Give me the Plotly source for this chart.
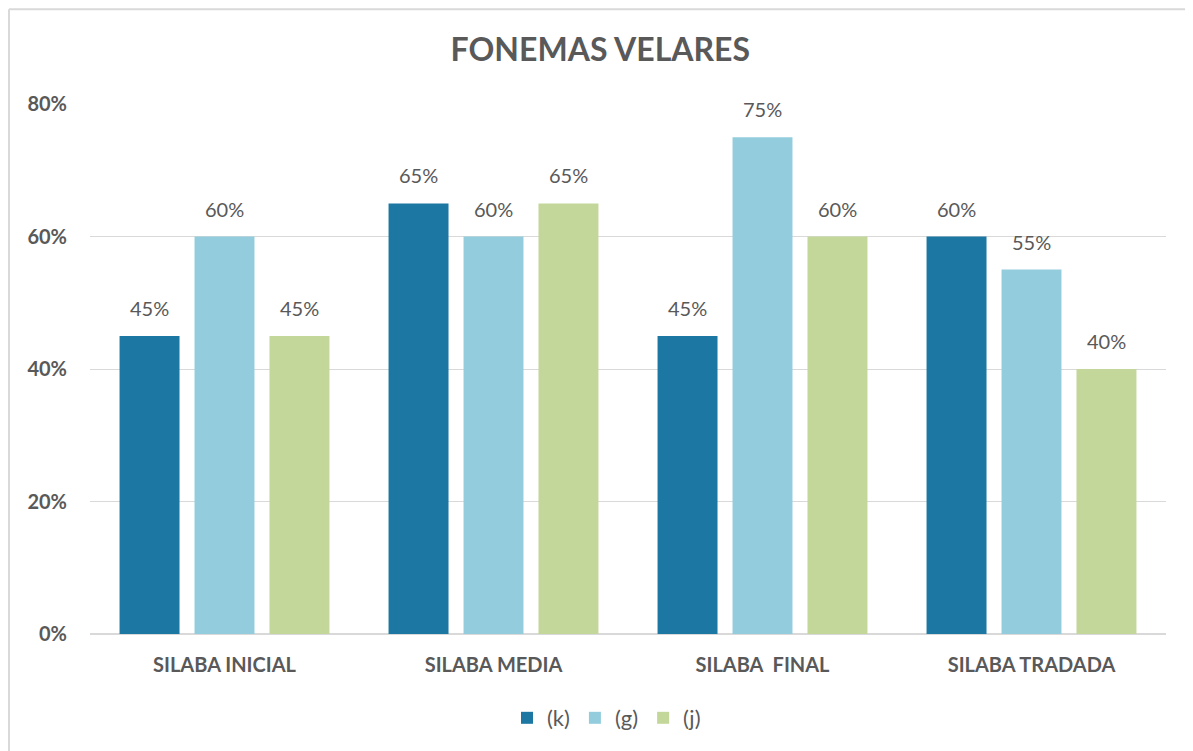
import plotly.graph_objects as go

categories = ['SILABA INICIAL', 'SILABA MEDIA', 'SILABA  FINAL', 'SILABA TRADADA']
series_names = ['(k)', '(g)', '(j)']
k_values = [0.45, 0.65, 0.45, 0.60]
g_values = [0.60, 0.60, 0.75, 0.55]
j_values = [0.45, 0.65, 0.60, 0.40]
colors = ['#1C77A3', '#93CDDD', '#C4D79B']

FONT = 'Lato, Carlito, Liberation Sans, sans-serif'
GRAY = '#595959'

fig = go.Figure()
for i, (name, vals, col) in enumerate(zip(series_names, [k_values, g_values, j_values], colors)):
    fig.add_trace(go.Bar(
        x=categories,
        y=vals,
        name=name,
        marker=dict(color=col, line=dict(width=0)),
    ))
    # data labels placed a bit higher than plotly's default outside text
    for cat, v in zip(categories, vals):
        fig.add_annotation(x=cat, y=v, xref='x', yref='y', text=f'{v:.0%}',
                           showarrow=False, xshift=(i - 1) * 75, yshift=14,
                           yanchor='bottom', font=dict(size=20, color=GRAY, family=FONT))

fig.update_layout(
    width=1193,
    height=751,
    paper_bgcolor='white',
    plot_bgcolor='white',
    font=dict(family=FONT, color=GRAY),
    title=dict(text='<b>FONEMAS VELARES</b>', x=0.4965, xanchor='center',
               y=0.944, yanchor='middle', font=dict(size=32, color=GRAY)),
    barmode='group',
    bargap=0.164,
    bargroupgap=0.2,
    margin=dict(l=82, r=35, t=96, b=125),
    showlegend=True,
    legend=dict(orientation='h', x=0.48, xanchor='center', y=-0.1585, yanchor='middle',
                font=dict(size=22, color=GRAY), itemwidth=30, traceorder='normal'),
    xaxis=dict(showline=False, ticks='', tickfont=dict(size=20, color=GRAY, weight='bold'),
               ticklabelstandoff=17),
    yaxis=dict(range=[0, 0.8], dtick=0.2, tickformat='.0%', showgrid=True,
               gridcolor='#D9D9D9', gridwidth=1, zeroline=True, zerolinecolor='#D9D9D9',
               zerolinewidth=2, tickfont=dict(size=20, color=GRAY, weight='bold'), ticks='',
               ticklabelstandoff=22),
)

# chart frame (left and top edges visible in the reference)
fig.add_shape(type='line', xref='paper', yref='paper', x0=-0.0753, x1=-0.0753,
              y0=-0.3, y1=1.179, line=dict(color='#D9D9D9', width=2))
fig.add_shape(type='line', xref='paper', yref='paper', x0=-0.0753, x1=1.1,
              y0=1.179, y1=1.179, line=dict(color='#D9D9D9', width=2))

fig.write_html('out.html')
